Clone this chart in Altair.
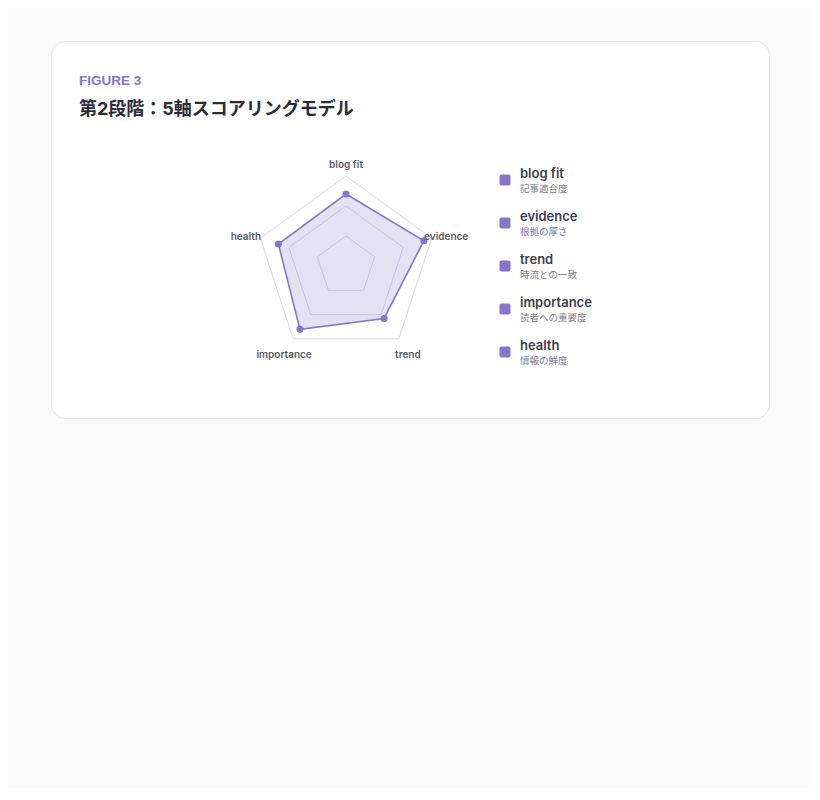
import altair as alt
import pandas as pd

axes = ["blog fit", "evidence", "trend", "importance", "health"]
axes_ja = ["記事適合度", "根拠の厚さ", "時流との一致", "読者への重要度", "情報の鮮度"]
scores = [80, 91, 72, 87, 79]
grid_levels = [100 / 3, 200 / 3, 100]
figure_label = "FIGURE 3"
title_text = "第2段階：5軸スコアリングモデル"

PURPLE = "#8676c8"
FONT = "Inter, 'Noto Sans CJK JP', sans-serif"
W, H = 718, 377  # card size
CX, CY = 295, 225  # radar centre inside the card, px
PX = 0.9  # px per score point
LABEL_R = 117
ROW0, ROW_STEP = 139, 43  # legend rows
ROUND_SQUARE = (
    "M -0.64 -1 L 0.64 -1 Q 1 -1 1 -0.64 L 1 0.64 Q 1 1 0.64 1 "
    "L -0.64 1 Q -1 1 -1 0.64 L -1 -0.64 Q -1 -1 -0.64 -1 Z"
)

n = len(axes)
scores_df = pd.DataFrame({"axis": axes, "ja": axes_ja, "score": scores, "i": range(n)})
grid_df = pd.DataFrame([{"level": lv, "i": i} for lv in grid_levels for i in range(n)])

angle = f"(PI / 2 - datum.i * 2 * PI / {n})"

x_scale = alt.Scale(domain=[-CX / PX, (W - CX) / PX], nice=False, zero=False)
y_scale = alt.Scale(domain=[-(H - CY) / PX, CY / PX], nice=False, zero=False)
X = alt.X("px:Q", scale=x_scale, axis=None)
Y = alt.Y("py:Q", scale=y_scale, axis=None)


def polar(chart, r):
    return chart.transform_calculate(
        px=f"{r} * cos({angle})", py=f"{r} * sin({angle})"
    )


grid = polar(alt.Chart(grid_df), "datum.level").mark_line(
    interpolate="linear-closed", stroke="#dcd8ec", strokeWidth=1
).encode(x=X, y=Y, detail="level:N", order="i:Q")

shape = polar(alt.Chart(scores_df), "datum.score").mark_line(
    interpolate="linear-closed", fill=PURPLE, fillOpacity=0.22,
    stroke=PURPLE, strokeWidth=1.6,
).encode(x=X, y=Y, order="i:Q")

points = polar(alt.Chart(scores_df), "datum.score").mark_circle(
    size=50, color=PURPLE, opacity=1
).encode(x=X, y=Y)

labels = polar(alt.Chart(scores_df), LABEL_R).mark_text(
    font=FONT, fontSize=10, fontWeight=600, color="#585b6b", dy=4
).encode(x=X, y=Y, text="axis:N")

# legend on the right, one row per axis
legend_y = alt.Y(
    "i:Q",
    scale=alt.Scale(domain=[-ROW0 / ROW_STEP, (H - ROW0) / ROW_STEP],
                    reverse=True, nice=False, zero=False),
    axis=None,
)
leg_sq = alt.Chart(scores_df).mark_point(
    shape=ROUND_SQUARE, size=121, filled=True, color=PURPLE, opacity=1
).encode(x=alt.value(454), y=legend_y)
leg_main = alt.Chart(scores_df).mark_text(
    font=FONT, align="left", baseline="middle", dy=-6.5,
    fontSize=13, fontWeight=600, color="#3b3e4c",
).encode(x=alt.value(469), y=legend_y, text="axis:N")
leg_sub = alt.Chart(scores_df).mark_text(
    font=FONT, align="left", baseline="middle", dy=9,
    fontSize=9.5, color="#7b7e8c",
).encode(x=alt.value(469), y=legend_y, text="ja:N")

fig = alt.Chart(pd.DataFrame({"t": [figure_label]})).mark_text(
    font="Liberation Sans", align="left", baseline="middle",
    fontSize=13.5, fontWeight=700, color=PURPLE,
).encode(x=alt.value(28), y=alt.value(39.5), text="t:N")
title = alt.Chart(pd.DataFrame({"t": [title_text]})).mark_text(
    font=FONT, align="left", baseline="middle", fontSize=18, fontWeight=700, color="#2b2b3b"
).encode(x=alt.value(28), y=alt.value(69), text="t:N")

chart = (
    alt.layer(grid, shape, points, labels, leg_sq, leg_main, leg_sub, fig, title)
    .resolve_scale(y="independent")
    .properties(
        width=W, height=H, background="#fafafa",
        padding={"left": 43, "top": 33, "right": 40, "bottom": 370},
    )
    .configure_view(fill="white", stroke="#e6e6ec", cornerRadius=14)
)

chart.save("out.html", embed_options={"renderer": "svg", "actions": False})
